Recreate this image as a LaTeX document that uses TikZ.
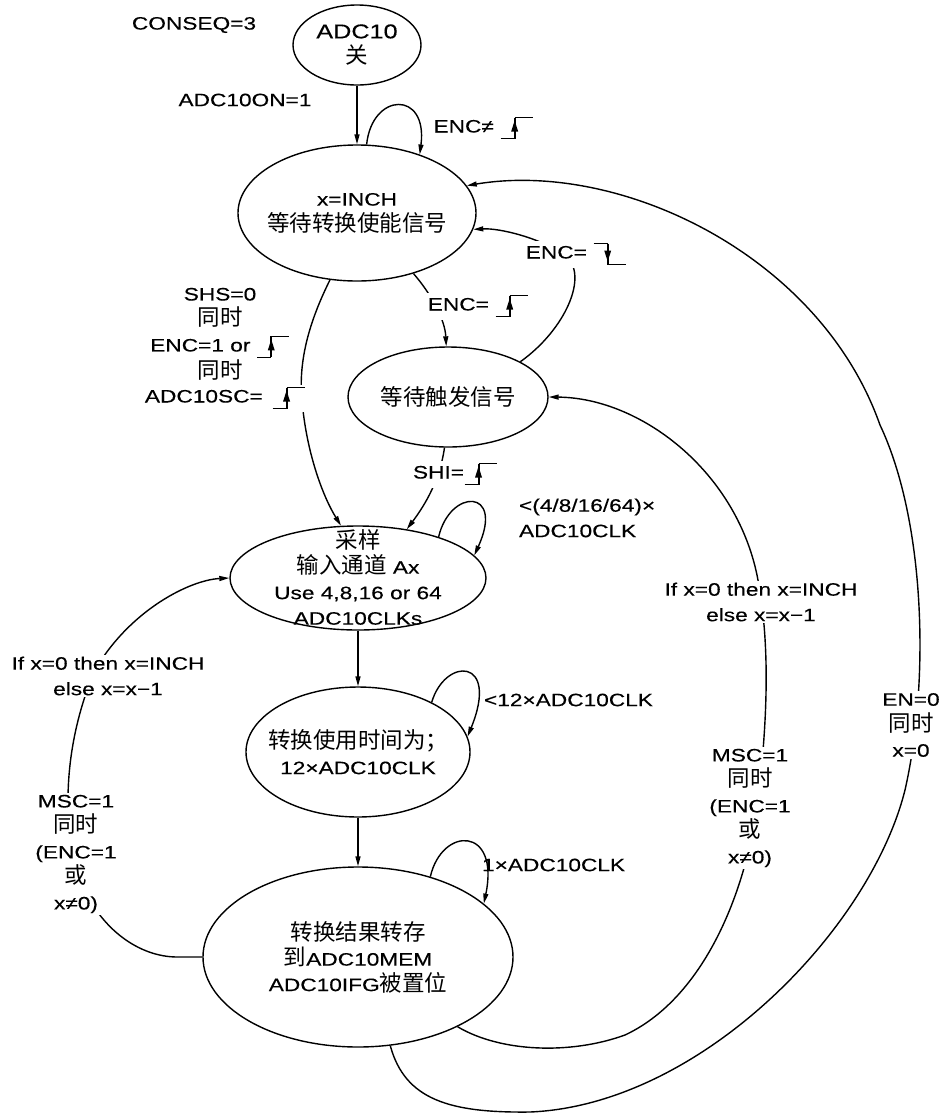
\documentclass[tikz,border=0pt]{standalone}
\usepackage{fontspec}
\setmainfont{Liberation Sans}[FakeStretch=1.26,FakeBold=0.3]
\newfontfamily\cjk{Noto Sans CJK SC}[Scale=1.25]
\usetikzlibrary{shapes.geometric,arrows.meta}
\newcommand\riseedge{\tikz[baseline=0pt,x=1pt,y=1pt]{\draw[black,line width=1pt] (0,-6)--(14,-6); \draw[black,line width=1pt] (14,15)--(32,15); \draw[black,line width=2pt] (14,-6)--(14,15); \fill[black] (14,12)--(10.5,1)--(17.5,1)--cycle;}}
\newcommand\falledge{\tikz[baseline=0pt,x=1pt,y=1pt]{\draw[black,line width=1pt] (0,15)--(14,15); \draw[black,line width=1pt] (14,-6)--(32,-6); \draw[black,line width=2pt] (14,15)--(14,-6); \fill[black] (14,-3)--(10.5,8)--(17.5,8)--cycle;}}
\begin{document}
\begin{tikzpicture}[x=1pt,y=-1pt,
  font=\fontsize{18}{25.5}\selectfont,
  line width=1.4pt,
  st/.style={draw,ellipse,inner sep=0pt,line width=1.4pt},
  txt/.style={align=center,inner sep=0pt},
  lbl/.style={align=center,fill=white,inner sep=2pt},
  arr/.style={-{Triangle[length=10pt,width=5pt]}}]
\fill[white] (0,0) rectangle (943,1117);
\useasboundingbox (0,0) rectangle (943,1117);

% states
\node[st,minimum width=128,minimum height=80] (off) at (357,45) {};
\node[txt] (offt) at (off) {{\fontsize{20}{25}\selectfont ADC10}\\{\cjk 关}};
\node[st,minimum width=238,minimum height=136] (we) at (357,213) {};
\node[txt] (wet) at (we) {x=INCH\\{\cjk 等待转换使能信号}};
\node[st,minimum width=200,minimum height=100] (wt) at (448,397) {};
\node[txt] (wtt) at (wt) {{\cjk 等待触发信号}};
\node[st,minimum width=256,minimum height=104] (samp) at (358,578) {};
\node[txt] (sampt) at ([yshift=1]samp.center) {{\cjk 采样}\\{\cjk 输入通道} Ax\\Use 4,8,16 or 64\\ADC10CLKs};
\node[st,minimum width=224,minimum height=130] (conv) at (358,752) {};
\node[txt] (convt) at (conv) {{\cjk 转换使用时间为；}\\12×ADC10CLK};
\node[st,minimum width=310,minimum height=180] (store) at (358,957) {};
\node[txt] (storet) at (store) {{\cjk 转换结果转存}\\{\cjk 到}ADC10MEM\\ADC10IFG{\cjk 被置位}};

% connectors
\draw[arr] (off.south) -- (we.north);
\draw[arr] (we.82) .. controls (372,92) and (428,90) .. (we.43);
\draw[arr] (wt.26) .. controls (565,330) and (590,275) .. (565,255) .. controls (540,238) and (500,228) .. (we.-8);
\draw[arr] (we.-47) .. controls (432,295) and (445,320) .. (wt.92);
\draw[arr] (we.-112) .. controls (310,320) and (298,360) .. (302,400) .. controls (306,450) and (322,495) .. (samp.108);
\draw[arr] (wt.-94) .. controls (440,480) and (425,505) .. (samp.45);
\draw[arr] (samp.27) .. controls (450,488) and (505,488) .. (samp.11);
\draw[arr] (samp.south) -- (conv.north);
\draw[arr] (conv.34) .. controls (445,657) and (500,657) .. (conv.8);
\draw[arr] (conv.south) -- (store.north);
\draw[arr] (store.48) .. controls (442,826) and (500,826) .. (store.23);
\draw[arr] (store.west) -- ++(-25,0) .. controls (140,957) and (100,930) .. (80,880) .. controls (60,820) and (65,740) .. (95,670) .. controls (130,610) and (190,580) .. (samp.west);
\draw[arr] (store.-35) .. controls (500,1052) and (570,1055) .. (625,1035) .. controls (700,1000) and (745,900) .. (758,800) .. controls (770,700) and (768,630) .. (757,575) .. controls (735,470) and (640,398) .. (wt.east);
\draw[arr] (store.-70) .. controls (405,1100) and (450,1113) .. (530,1112) .. controls (700,1105) and (870,930) .. (905,790) .. controls (930,680) and (925,520) .. (880,425) .. controls (820,255) and (620,160) .. (we.14);

% labels
\node (conseq) at (194,25) {CONSEQ=3};
\node (on) at (245,100) {ADC10ON=1};
\node[anchor=west] (l1) at (430,128) {ENC≠ \riseedge};
\node[lbl] (l2) at (576,254) {ENC= \falledge};
\node[lbl] (l3) at (478,306) {ENC= \riseedge};
\node[align=center] (l4) at (220,334) {SHS=0\\{\cjk 同时}\\ENC=1 or \riseedge\\{\cjk 同时}};
\node[lbl] (l4b) at (225,398) {ADC10SC= \,\riseedge};
\node[lbl] (l5) at (455,474) {SHI=\riseedge};
\node[anchor=west,align=left] (l6) at (515,518) {<(4/8/16/64)×\\ADC10CLK};
\node[anchor=west] (l7) at (480,700) {<12×ADC10CLK};
\node[anchor=west] (l8) at (478,865) {1×ADC10CLK};
\node[lbl] (l9) at (108,676) {If x=0 then x=INCH\\else x=x−1};
\node[lbl] (l10) at (76,854) {MSC=1\\{\cjk 同时}\\(ENC=1\\{\cjk 或}\\x≠0)};
\node[lbl] (l11) at (761,602) {If x=0 then x=INCH\\else x=x−1};
\node[lbl] (l12) at (750,808) {MSC=1\\{\cjk 同时}\\(ENC=1\\{\cjk 或}\\x≠0)};
\node[lbl] (l13) at (911,725) {EN=0\\{\cjk 同时}\\x=0};
\end{tikzpicture}
\end{document}
